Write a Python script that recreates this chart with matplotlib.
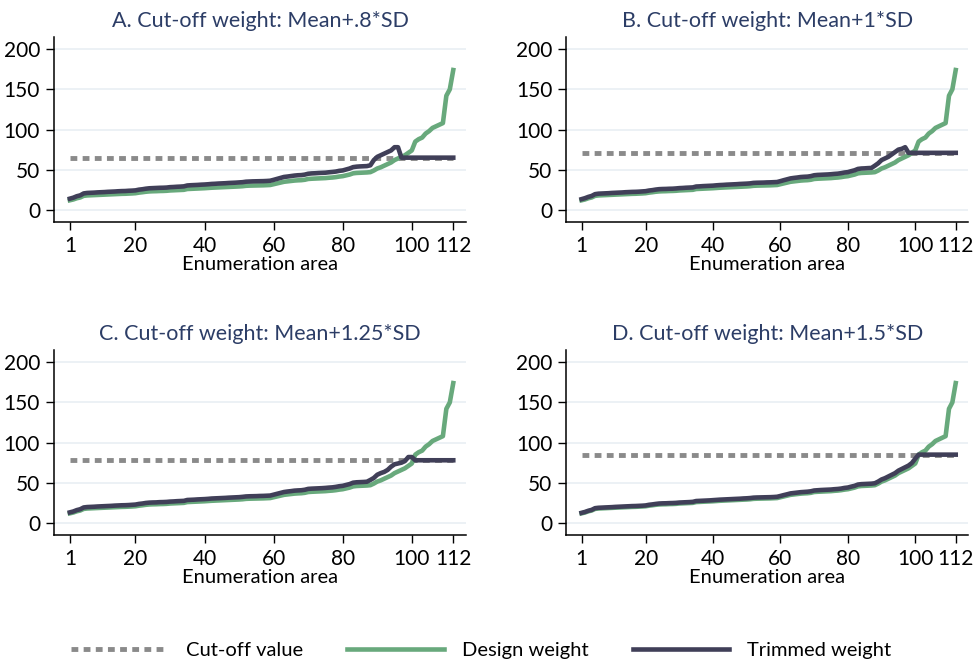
# Design weights vs trimmed weights at four cut-off levels, 112 enumeration areas

import numpy as np
import matplotlib.pyplot as plt

plt.rcParams['font.family'] = ['Lato', 'DejaVu Sans']

# DATA
ea = list(range(1, 113))

design = [12.0, 13.0, 14.5, 15.5, 17.5, 18.0, 18.2, 18.4, 18.6, 18.8,
          19.0, 19.2, 19.4, 19.6, 19.8, 20.0, 20.1, 20.3, 20.5, 20.8,
          21.5, 22.0, 22.6, 23.0, 23.2, 23.3, 23.5, 23.6, 23.8, 24.2,
          24.4, 24.6, 24.8, 25.0, 26.0, 26.2, 26.4, 26.6, 26.8, 27.0,
          27.3, 27.6, 27.8, 28.0, 28.2, 28.4, 28.6, 28.8, 29.0, 29.2,
          29.5, 30.0, 30.2, 30.3, 30.4, 30.5, 30.6, 30.8, 31.0, 32.0,
          33.0, 34.0, 35.0, 35.5, 36.0, 36.5, 36.8, 37.0, 37.5, 38.5,
          38.8, 39.0, 39.2, 39.4, 39.6, 40.0, 40.3, 40.8, 41.5, 42.0,
          43.0, 44.0, 45.5, 46.0, 46.2, 46.4, 46.6, 47.0, 49.0, 51.5,
          53.0, 55.0, 57.0, 59.0, 62.0, 64.0, 66.0, 68.0, 71.0, 74.0,
          85.0, 88.0, 90.0, 95.0, 98.0, 102.0, 104.0, 106.0, 108.0, 142.0,
          150.0, 174.0]

trim_a = [14.0, 15.2, 17.0, 18.1, 20.5, 21.1, 21.3, 21.5, 21.8, 22.0,
          22.2, 22.5, 22.7, 22.9, 23.2, 23.4, 23.5, 23.8, 24.0, 24.3,
          25.2, 25.7, 26.4, 26.9, 27.1, 27.3, 27.5, 27.6, 27.8, 28.3,
          28.5, 28.8, 29.0, 29.3, 30.4, 30.7, 30.9, 31.1, 31.4, 31.6,
          31.9, 32.3, 32.5, 32.8, 33.0, 33.2, 33.5, 33.7, 33.9, 34.2,
          34.5, 35.1, 35.3, 35.5, 35.6, 35.7, 35.8, 36.0, 36.3, 37.4,
          38.6, 39.8, 41.0, 41.5, 42.1, 42.7, 43.1, 43.3, 43.9, 45.0,
          45.4, 45.6, 45.9, 46.1, 46.3, 46.8, 47.2, 47.7, 48.6, 49.1,
          50.3, 51.5, 53.2, 53.8, 54.1, 54.3, 54.5, 55.5, 62.0, 66.0,
          68.0, 70.0, 72.0, 74.0, 78.0, 78.0, 65.0, 65.0, 65.0, 65.0,
          65.0, 65.0, 65.0, 65.0, 65.0, 65.0, 65.0, 65.0, 65.0, 65.0,
          65.0, 65.0]

trim_b = [13.4, 14.6, 16.2, 17.4, 19.6, 20.2, 20.4, 20.6, 20.8, 21.1,
          21.3, 21.5, 21.7, 22.0, 22.2, 22.4, 22.5, 22.7, 23.0, 23.3,
          24.1, 24.6, 25.3, 25.8, 26.0, 26.1, 26.3, 26.4, 26.7, 27.1,
          27.3, 27.6, 27.8, 28.0, 29.1, 29.3, 29.6, 29.8, 30.0, 30.2,
          30.6, 30.9, 31.1, 31.4, 31.6, 31.8, 32.0, 32.3, 32.5, 32.7,
          33.0, 33.6, 33.8, 33.9, 34.0, 34.2, 34.3, 34.5, 34.7, 35.8,
          37.0, 38.1, 39.2, 39.8, 40.3, 40.9, 41.2, 41.4, 42.0, 43.1,
          43.5, 43.7, 43.9, 44.1, 44.4, 44.8, 45.1, 45.7, 46.5, 47.0,
          48.2, 49.3, 51.0, 51.5, 51.7, 52.0, 52.2, 55.0, 58.0, 62.0,
          64.0, 66.0, 69.0, 72.0, 75.0, 76.0, 78.0, 71.0, 71.0, 71.0,
          71.0, 71.0, 71.0, 71.0, 71.0, 71.0, 71.0, 71.0, 71.0, 71.0,
          71.0, 71.0]

trim_c = [13.2, 14.3, 16.0, 17.1, 19.3, 19.8, 20.0, 20.2, 20.5, 20.7,
          20.9, 21.1, 21.3, 21.6, 21.8, 22.0, 22.1, 22.3, 22.6, 22.9,
          23.7, 24.2, 24.9, 25.3, 25.5, 25.6, 25.9, 26.0, 26.2, 26.6,
          26.8, 27.1, 27.3, 27.5, 28.6, 28.8, 29.0, 29.3, 29.5, 29.7,
          30.0, 30.4, 30.6, 30.8, 31.0, 31.2, 31.5, 31.7, 31.9, 32.1,
          32.5, 33.0, 33.2, 33.3, 33.4, 33.6, 33.7, 33.9, 34.1, 35.2,
          36.3, 37.4, 38.5, 39.1, 39.6, 40.2, 40.5, 40.7, 41.3, 42.4,
          42.7, 42.9, 43.1, 43.3, 43.6, 44.0, 44.3, 44.9, 45.7, 46.2,
          47.3, 48.4, 50.1, 50.6, 50.8, 51.0, 51.3, 53.5, 56.0, 60.0,
          62.0, 63.5, 66.0, 70.0, 73.0, 74.0, 75.0, 77.0, 82.0, 82.0,
          78.0, 78.0, 78.0, 78.0, 78.0, 78.0, 78.0, 78.0, 78.0, 78.0,
          78.0, 78.0]

trim_d = [12.6, 13.7, 15.2, 16.3, 18.4, 18.9, 19.1, 19.3, 19.5, 19.7,
          20.0, 20.2, 20.4, 20.6, 20.8, 21.0, 21.1, 21.3, 21.5, 21.8,
          22.6, 23.1, 23.7, 24.2, 24.4, 24.5, 24.7, 24.8, 25.0, 25.4,
          25.6, 25.8, 26.0, 26.3, 27.3, 27.5, 27.7, 27.9, 28.1, 28.4,
          28.7, 29.0, 29.2, 29.4, 29.6, 29.8, 30.0, 30.2, 30.5, 30.7,
          31.0, 31.5, 31.7, 31.8, 31.9, 32.0, 32.1, 32.3, 32.6, 33.6,
          34.7, 35.7, 36.8, 37.3, 37.8, 38.3, 38.6, 38.9, 39.4, 40.4,
          40.7, 41.0, 41.2, 41.4, 41.6, 42.0, 42.3, 42.8, 43.6, 44.1,
          45.2, 46.2, 47.8, 48.3, 48.5, 48.7, 48.9, 49.4, 51.5, 54.1,
          55.7, 57.8, 59.9, 62.0, 65.1, 67.2, 69.3, 71.4, 74.6, 80.0,
          85.0, 85.0, 85.0, 85.0, 85.0, 85.0, 85.0, 85.0, 85.0, 85.0,
          85.0, 85.0]

cutoffs = [65, 71, 78, 85]
titles = ['A. Cut-off weight: Mean+.8*SD', 'B. Cut-off weight: Mean+1*SD',
          'C. Cut-off weight: Mean+1.25*SD', 'D. Cut-off weight: Mean+1.5*SD']
trimmed = [trim_a, trim_b, trim_c, trim_d]

xticks = [1, 20, 40, 60, 80, 100, 112]
yticks = [0, 50, 100, 150, 200]

green = '#68a97c'
dark = '#403f58'
grey = '#8a8a8a'
title_col = '#2c3d66'

fig = plt.figure(figsize=(9.76, 6.62), dpi=100)

# axes boxes in figure fractions [left, bottom, width, height]
boxes = [[0.0553, 0.6647, 0.4222, 0.2793],
         [0.5800, 0.6647, 0.4120, 0.2793],
         [0.0553, 0.1918, 0.4222, 0.2793],
         [0.5800, 0.1918, 0.4120, 0.2793]]

handles = None
for k in range(4):
    ax = fig.add_axes(boxes[k])
    for y in yticks:
        ax.axhline(y, color='#e9eff3', lw=1.2, zorder=0)
    h1, = ax.plot([ea[0], ea[-1]], [cutoffs[k], cutoffs[k]], color=grey, lw=3.5,
                  linestyle=(0, (1.4, 1.1)), zorder=1)
    h2, = ax.plot(ea, design, color=green, lw=3.3, zorder=2, solid_joinstyle='round')
    h3, = ax.plot(ea, trimmed[k], color=dark, lw=3.3, zorder=3, solid_joinstyle='round')
    handles = [h1, h2, h3]

    ax.set_xlim(-3.6, 115.7)
    ax.set_ylim(-15, 215)
    ax.set_xticks(xticks)
    ax.set_yticks(yticks)
    ax.tick_params(labelsize=15, length=6, width=1, colors='black', pad=4)
    ax.spines['top'].set_visible(False)
    ax.spines['right'].set_visible(False)
    ax.spines['left'].set_linewidth(1.1)
    ax.spines['bottom'].set_linewidth(1.1)
    ax.set_xlabel('Enumeration area', fontsize=14.5, labelpad=0)
    ax.set_title(titles[k], fontsize=15.5, color=title_col, pad=7)

fig.legend(handles, ['Cut-off value', 'Design weight', 'Trimmed weight'],
           loc='center', bbox_to_anchor=(0.493, 0.018), ncol=3, frameon=False,
           fontsize=14.5, handlelength=4.8, handletextpad=0.9, columnspacing=2.2)

plt.savefig('out.png', dpi=100)
